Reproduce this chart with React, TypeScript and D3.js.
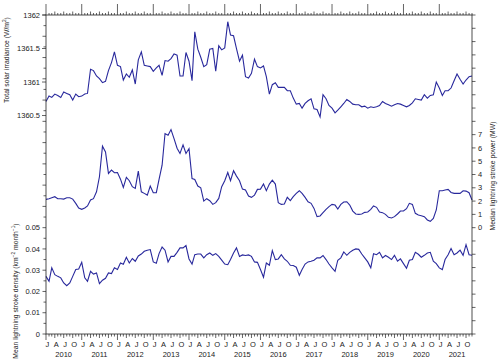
import React from "react";
import * as d3 from "d3";

// monthly series, Jan 2010 .. Dec 2021
const tsi = [
  1360.71, 1360.79, 1360.77, 1360.82, 1360.8, 1360.77, 1360.85, 1360.83, 1360.81, 1360.73,
  1360.82, 1360.78, 1360.79, 1360.82, 1360.83, 1361.19, 1361.17, 1361.09, 1361.05, 1360.99,
  1361.01, 1361.17, 1361.29, 1361.45, 1361.25, 1361.23, 1361.03, 1361.12, 1361.07, 1361.18,
  1360.97, 1361.33, 1361.45, 1361.25, 1361.24, 1361.23, 1361.16, 1361.21, 1361.25, 1361.1,
  1361.32, 1361.31, 1361.35, 1361.42, 1361.4, 1361.09, 1361.09, 1361.44, 1361.31, 1361.02,
  1361.75, 1361.49, 1361.37, 1361.23, 1361.26, 1361.49, 1361.5, 1361.16, 1361.54, 1361.48,
  1361.51, 1361.9, 1361.7, 1361.69, 1361.5, 1361.31, 1361.4, 1361.08, 1361.06,
  1361.13, 1361.34, 1361.23, 1361.21, 1361.24, 1361.08, 1360.82, 1360.96, 1360.99, 1360.92,
  1360.92, 1360.92, 1360.87, 1360.87, 1360.76, 1360.67, 1360.68, 1360.61, 1360.68, 1360.72,
  1360.75, 1360.6, 1360.59, 1360.48, 1360.81, 1360.75, 1360.65, 1360.61, 1360.54, 1360.58,
  1360.63, 1360.68, 1360.74, 1360.71, 1360.67, 1360.66, 1360.66, 1360.63, 1360.64, 1360.61,
  1360.63, 1360.62, 1360.63, 1360.65, 1360.71, 1360.68, 1360.66, 1360.64, 1360.66, 1360.68,
  1360.67, 1360.65, 1360.63, 1360.65, 1360.69, 1360.75, 1360.74, 1360.73, 1360.81, 1360.76,
  1360.8, 1360.81, 1361.0, 1360.91, 1360.8, 1360.87, 1360.87, 1360.91, 1361.02, 1361.12,
  1361.04, 1360.97, 1361.03, 1361.08, 1361.09,
];

const power = [
  2.13, 2.18, 2.25, 2.33, 2.18, 2.18, 2.15, 2.25, 2.25, 2.15,
  1.83, 1.48, 1.38, 1.48, 1.63, 2.08, 2.18, 2.7, 3.83, 6.13,
  5.7, 4.08, 4.33, 4.13, 4.15, 3.65, 3.03, 3.78, 3.53, 3.08,
  2.95, 4.25, 2.7, 2.58, 2.45, 3.13, 2.63, 2.63, 3.63, 4.7,
  7.08, 6.95, 7.38, 6.7, 5.98, 5.58, 6.23, 5.58, 5.95, 3.7,
  3.63, 3.13, 3.0, 2.0, 2.18, 2.03, 1.75, 1.88, 2.2, 3.08,
  3.53, 4.15, 3.53, 4.28, 3.88, 3.53, 2.9, 2.83,
  2.38, 2.28, 2.45, 2.88, 2.9, 3.28, 2.78, 3.28, 3.58, 3.28,
  1.88, 1.75, 1.78, 2.28, 2.03, 2.33, 2.58, 2.78, 2.58, 2.28,
  1.95, 1.83, 1.45, 0.83, 0.88, 1.13, 1.38, 1.58, 1.75, 1.7,
  1.4, 1.75, 1.93, 1.95, 1.7, 1.25, 1.03, 1.0, 1.03, 1.15,
  1.18, 1.38, 1.63, 1.53, 1.18, 1.13, 1.0, 0.78, 0.73, 0.83,
  1.03, 1.25, 1.25, 1.43, 1.83, 1.75, 1.08, 0.95, 0.9, 0.83,
  0.58, 0.48, 0.7, 1.33, 2.78, 2.78, 2.83, 2.88, 2.65, 2.58,
  2.58, 2.58, 2.78, 2.75, 2.63, 2.08,
];

const density = [
  0.0271, 0.0248, 0.0311, 0.0279, 0.0271, 0.0264, 0.024, 0.0227, 0.024, 0.0271,
  0.0303, 0.0306, 0.0337, 0.0264, 0.0248, 0.0295, 0.0282, 0.0287, 0.0237, 0.0253,
  0.0262, 0.0287, 0.0284, 0.0311, 0.0303, 0.0334, 0.0328, 0.0361, 0.0334, 0.0355,
  0.0342, 0.0367, 0.0376, 0.0389, 0.0394, 0.0397, 0.0339, 0.0333, 0.0378, 0.0409,
  0.0394, 0.0339, 0.0365, 0.0365, 0.0384, 0.0405, 0.0405, 0.0416, 0.0353, 0.0329,
  0.0373, 0.0376, 0.0376, 0.0358, 0.0373, 0.0381, 0.037, 0.0378, 0.0365, 0.0347,
  0.0329, 0.0326, 0.035, 0.0381, 0.0405, 0.0365, 0.0372, 0.0369, 0.0372,
  0.0365, 0.0339, 0.0337, 0.0303, 0.0267, 0.0334, 0.0323, 0.0392, 0.035, 0.0353,
  0.0373, 0.0353, 0.0342, 0.0323, 0.0322, 0.0314, 0.0276, 0.0303, 0.0329, 0.0339,
  0.0342, 0.0347, 0.0358, 0.0358, 0.0369, 0.035, 0.0329, 0.0311, 0.0295, 0.0347,
  0.0358, 0.0386, 0.037, 0.0384, 0.0394, 0.04, 0.0398, 0.0376, 0.0358, 0.0339,
  0.0311, 0.0378, 0.0373, 0.0384, 0.0358, 0.0369, 0.0361, 0.035, 0.037, 0.0342,
  0.0353, 0.0331, 0.0309, 0.0347, 0.035, 0.0384, 0.0375, 0.0361, 0.037, 0.0381,
  0.0384, 0.0342, 0.0331, 0.0311, 0.0303, 0.035, 0.0373, 0.0402, 0.0373, 0.0381,
  0.0394, 0.037, 0.042, 0.0373, 0.037,
];

const years = ["2010", "2011", "2012", "2013", "2014", "2015", "2016", "2017", "2018", "2019", "2020", "2021"];
const monthLetters = { 0: "J", 3: "A", 6: "J", 9: "O" } as Record<number, string>;
const tsiTicks = [1360.5, 1361, 1361.5, 1362];
const powerTicks = [0, 1, 2, 3, 4, 5, 6, 7];
const densityTicks = [0, 0.01, 0.02, 0.03, 0.04, 0.05];

const W = 500, H = 361;
const left = 46, right = 472, top = 15, bottom = 334;
const font = "'Liberation Sans', Arial, Helvetica, sans-serif";
const ink = "#222";
const lineColor = "#28289c";

export default function App() {
  const start = new Date(2010, 0, 1);
  const dates = tsi.map((_, i) => d3.timeMonth.offset(start, i));

  const x = d3.scaleTime().domain([start, new Date(2021, 11, 1)]).range([left, right]);
  const yTsi = d3.scaleLinear().domain([1357.24, 1362]).range([bottom, top]);
  const yPow = d3.scaleLinear().domain([-8, 16]).range([bottom, top]);
  const yDen = d3.scaleLinear().domain([0, 0.15]).range([bottom, top]);

  const lineTsi = d3.line<number>().x((_, i) => x(dates[i])).y((d) => yTsi(d));
  const linePow = d3.line<number>().x((_, i) => x(dates[i])).y((d) => yPow(d));
  const lineDen = d3.line<number>().x((_, i) => x(dates[i])).y((d) => yDen(d));

  const months = d3.timeMonth.range(start, new Date(2021, 11, 2));
  const denMinor = d3.range(0, 31).map((i) => i * 0.005);
  const powMinor = d3.range(-8, 17);

  return (
    <svg width={W} height={H} style={{ position: "absolute", left: 0, top: 0, fontFamily: font }}>
      <rect width={W} height={H} fill="#fff" />

      {/* series */}
      <path d={lineTsi(tsi) || ""} fill="none" stroke={lineColor} strokeWidth={1.1} />
      <path d={linePow(power) || ""} fill="none" stroke={lineColor} strokeWidth={1.1} />
      <path d={lineDen(density) || ""} fill="none" stroke={lineColor} strokeWidth={1.1} />

      {/* frame */}
      <rect x={left} y={top} width={right - left} height={bottom - top} fill="none" stroke={ink} strokeWidth={0.8} />

      {/* top & bottom month ticks */}
      {months.map((m, i) => {
        const mx = x(m);
        const mo = m.getMonth();
        const topLen = mo === 0 ? 11 : mo % 3 === 0 ? 3.5 : 2;
        const botLen = mo === 0 ? 6 : mo % 3 === 0 ? 4 : 2.5;
        return (
          <g key={"m" + i}>
            <line x1={mx} x2={mx} y1={top} y2={top - topLen} stroke={ink} strokeWidth={0.7} />
            <line x1={mx} x2={mx} y1={bottom} y2={bottom + botLen} stroke={ink} strokeWidth={0.7} />
            {monthLetters[mo] !== undefined && (
              <text x={x(d3.timeDay.offset(m, 14))} y={347} fontSize={7.5} textAnchor="middle" fill={ink}>
                {monthLetters[mo]}
              </text>
            )}
          </g>
        );
      })}
      {years.map((yr) => (
        <text key={yr} x={x(new Date(+yr, 6, 1))} y={357} fontSize={7.5} textAnchor="middle" fill={ink}>
          {yr}
        </text>
      ))}

      {/* left axis: density minor ticks along full height */}
      {denMinor.map((v, i) => (
        <line key={"dm" + i} x1={left} x2={left - (i % 2 === 0 ? 3.5 : 2.5)} y1={yDen(v)} y2={yDen(v)} stroke={ink} strokeWidth={0.7} />
      ))}
      {densityTicks.map((v) => (
        <text key={"dl" + v} x={40} y={yDen(v) + 2.7} fontSize={7.5} textAnchor="end" fill={ink}>
          {v === 0 ? "0" : v.toFixed(2)}
        </text>
      ))}
      {tsiTicks.map((v) => (
        <g key={"t" + v}>
          <line x1={left} x2={left - 4} y1={yTsi(v)} y2={yTsi(v)} stroke={ink} strokeWidth={0.7} />
          <text x={40} y={yTsi(v) + 2.7} fontSize={7.5} textAnchor="end" fill={ink}>
            {String(v)}
          </text>
        </g>
      ))}

      {/* right axis */}
      {powMinor.map((v) => (
        <line key={"pm" + v} x1={right} x2={right + 3.5} y1={yPow(v)} y2={yPow(v)} stroke={ink} strokeWidth={0.7} />
      ))}
      {powerTicks.map((v) => (
        <text key={"pl" + v} x={478} y={yPow(v) + 2.7} fontSize={7.5} textAnchor="start" fill={ink}>
          {v}
        </text>
      ))}

      {/* axis titles */}
      <text transform="translate(8.5,60) rotate(-90)" fontSize={6.8} textAnchor="middle" fill={ink}>
        Total solar irradiance (W/m<tspan dy={-2.5} fontSize={4.8}>2</tspan><tspan dy={2.5}>)</tspan>
      </text>
      <text transform="translate(17.5,291) rotate(-90)" fontSize={6.8} textAnchor="middle" fill={ink}>
        Mean lightning stroke density (km<tspan dy={-2.5} fontSize={4.8}>−2</tspan>
        <tspan dy={2.5}> month</tspan><tspan dy={-2.5} fontSize={4.8}>−1</tspan><tspan dy={2.5}>)</tspan>
      </text>
      <text transform="translate(494.5,176) rotate(-90)" fontSize={6.8} textAnchor="middle" fill={ink}>
        Median lightning stroke power (MW)
      </text>
    </svg>
  );
}
